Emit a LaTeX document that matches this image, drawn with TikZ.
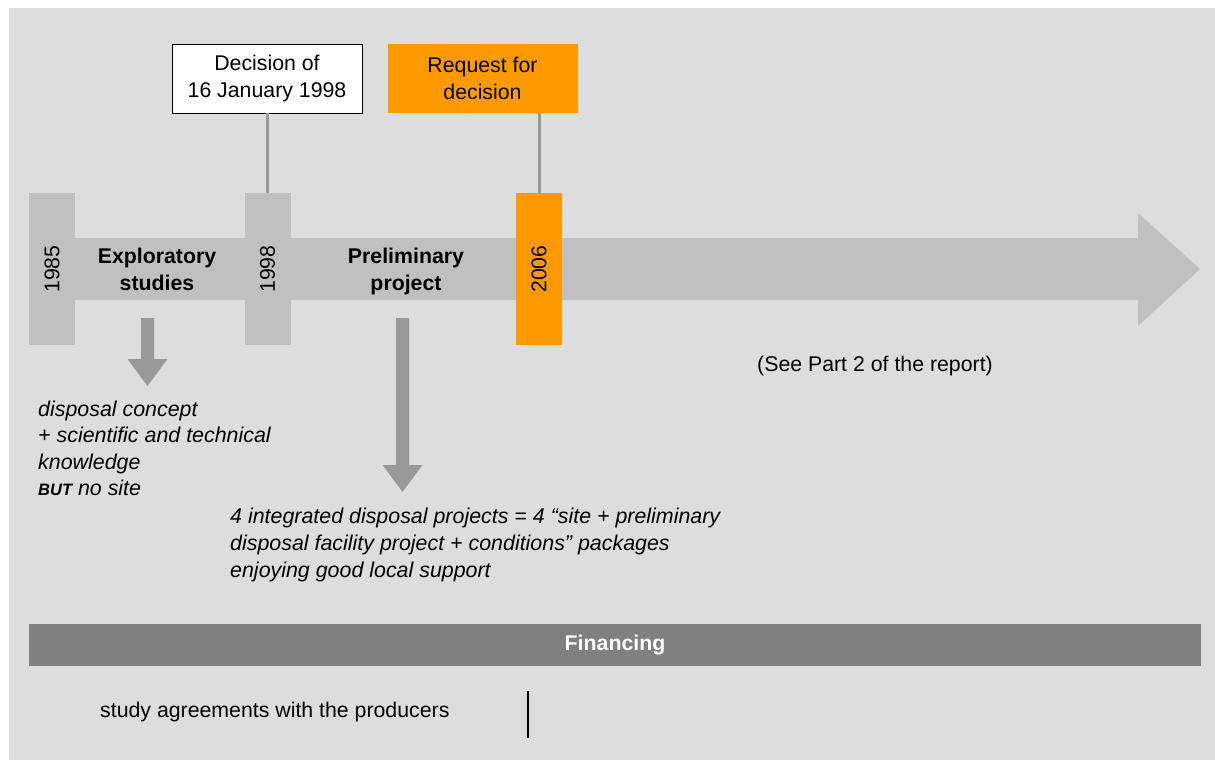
\documentclass[tikz,border=0pt]{standalone}
\usepackage{fontspec}
\setmainfont{Liberation Sans}
\definecolor{bgc}{HTML}{DDDDDD}
\definecolor{barc}{HTML}{C0C0C0}
\definecolor{darr}{HTML}{999999}
\definecolor{orng}{HTML}{FF9900}
\definecolor{finc}{HTML}{808080}
\begin{document}
\begin{tikzpicture}[x=1pt,y=-1pt,
  bld/.style={inner sep=0pt, align=center, font=\fontsize{21.3}{27}\selectfont\bfseries},
  itl/.style={inner sep=0pt, anchor=base west, font=\fontsize{21.4}{27}\selectfont\itshape},
  reg/.style={inner sep=0pt, anchor=base west, font=\fontsize{21.3}{27}\selectfont},
  yearbar/.style={fill=barc, rotate=90, minimum width=152pt, minimum height=46pt, inner sep=0pt, font=\fontsize{21.3}{27}\selectfont},
  topbox/.style={minimum width=190pt, minimum height=69pt, inner sep=0pt, align=center, font=\fontsize{21.3}{27}\selectfont},
  conn/.style={draw=darr, line width=3pt},
  downarrow/.style={fill=darr}
]
\useasboundingbox (0,0) rectangle (1215,760);
% background
\fill[bgc] (9,8) rectangle (1215,760);
% main timeline arrow
\fill[barc] (29,238) -- (1138,238) -- (1138,213) -- (1200,269) -- (1138,326) -- (1138,300) -- (29,300) -- cycle;
% year bars
\node[yearbar] (b1985) at (52,269) {1985};
\node[yearbar] (b1998) at (267.5,269) {1998};
\node[yearbar, fill=orng] (b2006) at (539,269) {2006};
% top boxes
\node[topbox, draw=black, line width=0.8pt, fill=white] (dec) at (267,78.5) {Decision of\\16 January 1998};
\node[topbox, fill=orng] (req) at (482.5,78.5) {Request for\\decision};
% connectors
\draw[conn] (dec.south) -- (dec.south |- b1998.east);
\draw[conn] (b2006.east) -- (b2006.east |- req.south);
% phase labels
\node[bld] (expl) at (157,269.3) {Exploratory\\studies};
\node[bld] (prel) at (406,271.6) {Preliminary\\project};
% down arrows
\fill[downarrow] (141,318) -- (154,318) -- (154,359) -- (167.5,359) -- (147.5,386) -- (127.5,359) -- (141,359) -- cycle;
\fill[downarrow] (396,318) -- (409,318) -- (409,465) -- (422.5,465) -- (402.5,492) -- (382.5,465) -- (396,465) -- cycle;
% texts under exploratory studies
\node[itl] (e1) at (38,416) {disposal concept};
\node[itl] (e2) at (38,442.5) {+ scientific and technical};
\node[itl] (e3) at (38,469) {knowledge};
\node[itl] (e4) at (38,495) {{\fontsize{16.5}{20}\selectfont\bfseries\itshape BUT} no site};
% texts under preliminary project
\node[itl] (p1) at (230,523.3) {4 integrated disposal projects = 4 “site + preliminary};
\node[itl] (p2) at (230,550.7) {disposal facility project + conditions” packages};
\node[itl] (p3) at (230,577.7) {enjoying good local support};
% see part 2
\node[reg] (see) at (757,371.7) {(See Part 2 of the report)};
% financing band
\node[fill=finc, minimum width=1172pt, minimum height=42pt, inner sep=0pt] (fin) at (615,645) {};
\node[inner sep=0pt, anchor=base, text=white, font=\fontsize{21.3}{27}\selectfont\bfseries] (fint) at (615,650) {Financing};
\node[reg] (study) at (100,717) {study agreements with the producers};
\coordinate (vt) at (528,691);
\coordinate (vb) at (528,738);
\draw[black, line width=1.5pt] (vt) -- (vb);
\end{tikzpicture}
\end{document}
